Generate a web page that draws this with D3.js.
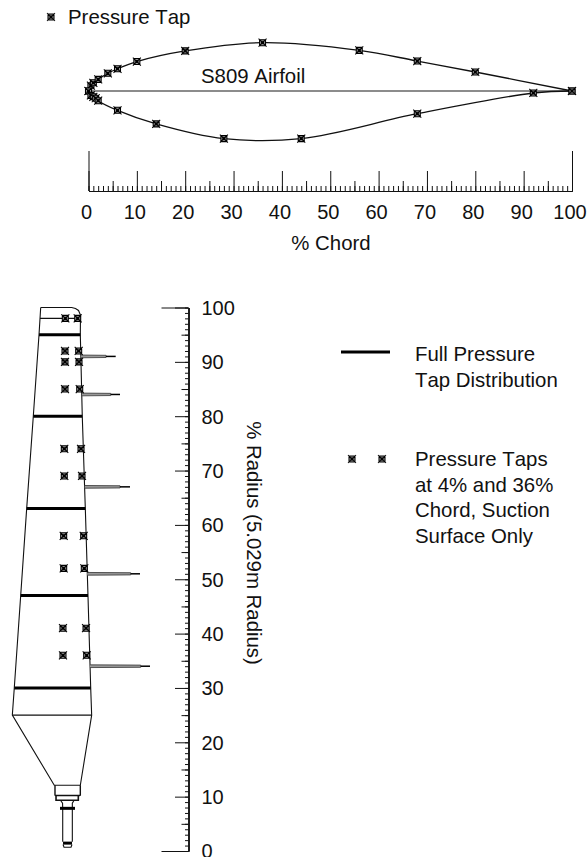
<!DOCTYPE html>
<html>
<head>
<meta charset="utf-8">
<title>S809 pressure taps</title>
<script src="https://cdn.jsdelivr.net/npm/d3@7"></script>
<style>
  html, body { margin: 0; padding: 0; background: #fff; overflow: hidden; }
  svg { display: block; }
  text { font-family: "Liberation Sans", Arial, sans-serif; font-size: 20.4px; font-kerning: none; fill: #111; }
  .tick text { font-family: "Liberation Sans", Arial, sans-serif; font-size: 20px; fill: #111; }
</style>
</head>
<body>
<svg id="chart" width="587" height="857"></svg>
<script>
// DATA

// airfoil tap locations: [% chord, % chord thickness]
const upperTaps = [[0, 0], [0.5, 1.1], [1, 1.7], [2, 2.4], [4, 3.66], [6, 4.6], [10, 6.1],
  [20, 8.3], [36, 10], [56, 8.4], [68, 6.2], [80, 3.93], [100, 0]];
const lowerTaps = [[0, 0], [0.5, -0.9], [1, -1.2], [1.5, -1.5], [2, -2], [6, -4], [14, -6.8],
  [28, -9.85], [44, -9.85], [68, -4.7], [92, -0.41], [100, 0]];
const chordLine = [[0, 0], [100, 0]];

const chordMajor = d3.range(0, 101, 10);
const chordMid = d3.range(5, 100, 10);
const chordMinor = d3.range(0, 101, 1);
const chordEnds = [0, 100];

const radiusMajor = d3.range(0, 101, 10);
const radiusMid = d3.range(5, 100, 10);
const radiusMinor = d3.range(0, 101, 1);
const radiusEnds = [0, 100];

// blade planform: [width position, % radius]
const bladeOutline = [[5.28, 100], [10.98, 100], [11.68, 99.8], [12.24, 99.45], [12.6, 98.6],
  [12.57, 95], [12.93, 80], [13.49, 63], [13.98, 47], [14.48, 30], [14.66, 25], [12.57, 12.1],
  [7.78, 12.1], [0.06, 25], [0.42, 30], [1.6, 47], [2.7, 63], [3.92, 80], [4.97, 95], [5.28, 100]];
const rootLine = [[0.06, 25], [14.66, 25]];
const thinStation = [[5.15, 98], [12.09, 98]];

// full pressure stations: [% radius, left, right]
const fullStations = [[95, 4.97, 12.57], [80, 3.92, 12.93], [63, 2.7, 13.49], [47, 1.6, 13.98], [30, 0.42, 14.48]];

// spanwise tap rows: [% radius, 4% chord position, 36% chord position]
const spanTaps = [[98, 9.81, 12.09], [92, 9.75, 12.27], [90, 9.75, 12.33], [85, 9.75, 12.46],
  [74, 9.62, 12.7], [69, 9.62, 12.88], [58, 9.51, 13.19], [52, 9.51, 13.3], [41, 9.38, 13.62], [36, 9.38, 13.74]];

// probes: [% radius, base, end of body, tip]
const probes = [[91, 12.7, 17.3, 19.08], [84, 12.88, 18.16, 19.87], [67, 13.38, 19.87, 21.71],
  [51, 13.85, 21.84, 23.55], [34, 14.35, 23.68, 25.39]];

// hub end of the blade
const hubBox = [[7.91, 12.1], [7.91, 10.3], [8.1, 10.2], [12.4, 10.2], [12.57, 10.3], [12.57, 12.1]];
const hubFlange = [[8.1, 10.2], [8.1, 9.35], [12.2, 9.35], [12.2, 10.2]];
const hubNeckLeft = [[8.95, 9.3], [9.3, 8.8], [9.33, 7.8]];
const hubNeckRight = [[11.4, 9.3], [11.1, 8.8], [11.1, 7.8]];
const hubRing = [[8.83, 7.85], [11.59, 7.85]];
const shaftLeft = [[9.33, 7.8], [9.33, 1.72]];
const shaftRight = [[11.1, 7.8], [11.1, 1.72]];
const shaftBand = [[9.39, 1.45], [11.04, 1.45]];
const shaftEnd = [[9.39, 1.2], [9.57, 0.7], [10.86, 0.7], [11.04, 1.2]];

// legend text
const legendFull = ["Full Pressure", "Tap Distribution"];
const legendTaps = ["Pressure Taps", "at 4% and 36%", "Chord, Suction", "Surface Only"];

// SCALES

const svg = d3.select("#chart");

const chordX = d3.scaleLinear().domain([0, 100]).range([88.5, 572]);
const thickY = d3.scaleLinear().domain([-10, 10]).range([139.35, 42.65]);
const radiusY = d3.scaleLinear().domain([0, 100]).range([851, 307.5]);
const bladeX = d3.scaleLinear().domain([0, 100]).range([12, 555.5]);

const airfoilLine = d3.line().x(d => chordX(d[0])).y(d => thickY(d[1]));
const bladeLine = d3.line().x(d => bladeX(d[0])).y(d => radiusY(d[1]));

// MARKER

function drawTap(sel, x, y) {
  const g = sel.append("g").attr("transform", `translate(${x},${y})`);
  g.append("path")
    .attr("d", "M-3,-3H3V3H-3ZM-4,-4L4,4M-4,4L4,-4")
    .attr("fill", "#999")
    .attr("stroke", "#000")
    .attr("stroke-width", 1.05);
  g.append("rect")
    .attr("x", -1.5).attr("y", -1.5)
    .attr("width", 3).attr("height", 3)
    .attr("fill", "#000");
}

// AIRFOIL

const airfoil = svg.append("g").attr("fill", "none").attr("stroke", "#111");

airfoil.append("path")
  .attr("d", airfoilLine(chordLine))
  .attr("stroke", "#666")
  .attr("stroke-width", 1.5);
airfoil.append("path")
  .attr("d", airfoilLine.curve(d3.curveCatmullRom.alpha(0.5))(upperTaps))
  .attr("stroke-width", 1.3);
airfoil.append("path")
  .attr("d", airfoilLine.curve(d3.curveCatmullRom.alpha(0.5))(lowerTaps))
  .attr("stroke-width", 1.3);

const airfoilTaps = svg.append("g");
upperTaps.concat(lowerTaps).forEach(d => drawTap(airfoilTaps, chordX(d[0]), thickY(d[1])));

drawTap(svg, 51, 17);
svg.append("text").attr("x", 68).attr("y", 24).text("Pressure Tap");
svg.append("text").attr("x", 201).attr("y", 82.5).text("S809 Airfoil");

// CHORD AXIS

function chordTicks(values, size) {
  const g = svg.append("g")
    .attr("transform", "translate(0,191)")
    .call(d3.axisTop(chordX).tickValues(values).tickSize(size).tickSizeOuter(0).tickFormat(""));
  g.selectAll("path, line").attr("stroke", "#111").attr("stroke-width", 1);
}
chordTicks(chordMinor, 5);
chordTicks(chordMid, 10);
chordTicks(chordMajor, 20);
chordTicks(chordEnds, 40);

// labels sit a little left of their ticks in the original
const chordLabels = svg.append("g")
  .attr("transform", "translate(-2.5,191)")
  .call(d3.axisBottom(chordX).tickValues(chordMajor).tickSize(0).tickPadding(14));
chordLabels.select(".domain").remove();

svg.append("text")
  .attr("x", 331).attr("y", 250)
  .attr("text-anchor", "middle")
  .text("% Chord");

// RADIUS AXIS

function radiusTicks(values, size) {
  const g = svg.append("g")
    .attr("transform", "translate(188.5,0)")
    .call(d3.axisLeft(radiusY).tickValues(values).tickSize(size).tickSizeOuter(0).tickFormat(""));
  g.selectAll("path, line").attr("stroke", "#111").attr("stroke-width", 1);
}
radiusTicks(radiusMinor, 3.5);
radiusTicks(radiusMid, 7);
radiusTicks(radiusMajor, 13.5);
radiusTicks(radiusEnds, 27);

const radiusLabels = svg.append("g")
  .attr("transform", "translate(188.5,0.5)")
  .call(d3.axisRight(radiusY).tickValues(radiusMajor).tickSize(0).tickPadding(13));
radiusLabels.select(".domain").remove();

svg.append("text")
  .attr("transform", "translate(247,543) rotate(90)")
  .attr("text-anchor", "middle")
  .text("% Radius (5.029m Radius)");

// BLADE

const blade = svg.append("g").attr("fill", "none").attr("stroke", "#111").attr("stroke-width", 1.1);

[bladeOutline, rootLine, thinStation, hubNeckLeft, hubNeckRight, shaftLeft, shaftRight, shaftEnd]
  .forEach(part => blade.append("path").attr("d", bladeLine(part)));
blade.append("path").attr("d", bladeLine(hubBox)).attr("stroke-width", 1.4);
blade.append("path").attr("d", bladeLine(hubFlange)).attr("stroke-width", 1.6);
blade.append("path").attr("d", bladeLine(hubRing)).attr("stroke-width", 3).attr("stroke", "#000");
blade.append("path").attr("d", bladeLine(shaftBand)).attr("stroke-width", 3).attr("stroke", "#000");

fullStations.forEach(d => {
  blade.append("path")
    .attr("d", bladeLine([[d[1], d[0]], [d[2], d[0]]]))
    .attr("stroke", "#000")
    .attr("stroke-width", 3);
});

probes.forEach(d => {
  // hollow body, then a solid tip
  blade.append("path")
    .attr("d", bladeLine([[d[1], d[0] + 0.25], [d[2], d[0] + 0.2], [d[2], d[0] - 0.2], [d[1], d[0] - 0.25]]))
    .attr("stroke", "#444")
    .attr("fill", "#999")
    .attr("stroke-width", 0.9);
  blade.append("path")
    .attr("d", bladeLine([[d[2], d[0]], [d[3], d[0]]]))
    .attr("stroke", "#000")
    .attr("stroke-width", 1.5);
});

spanTaps.forEach(d => {
  drawTap(svg, bladeX(d[1]), radiusY(d[0]));
  drawTap(svg, bladeX(d[2]), radiusY(d[0]));
});

// LEGEND

svg.append("line")
  .attr("x1", 341).attr("x2", 390)
  .attr("y1", 352).attr("y2", 352)
  .attr("stroke", "#000")
  .attr("stroke-width", 3);

legendFull.forEach((t, i) => {
  svg.append("text").attr("x", 415).attr("y", 361 + i * 25.7).text(t);
});

drawTap(svg, 352, 459);
drawTap(svg, 382, 459);

legendTaps.forEach((t, i) => {
  svg.append("text").attr("x", 415).attr("y", 466 + i * 25.7).text(t);
});
</script>
</body>
</html>
